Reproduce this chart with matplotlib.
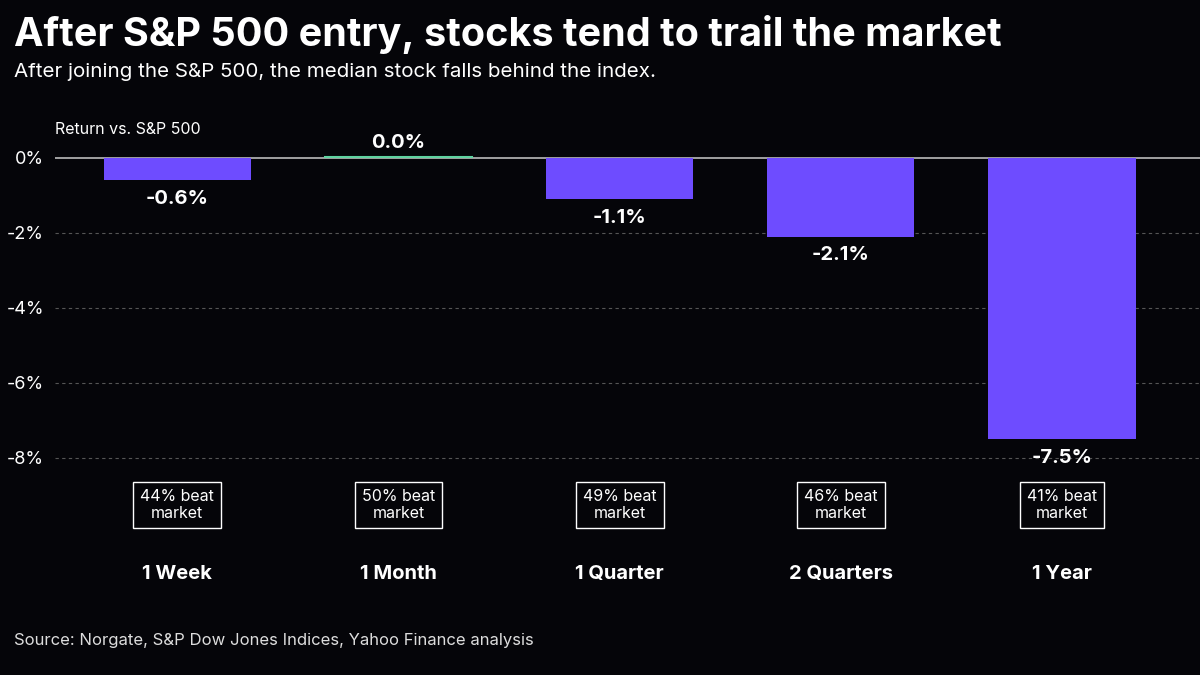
import matplotlib
matplotlib.use('Agg')
import matplotlib.pyplot as plt
from matplotlib.transforms import blended_transform_factory

periods = ['1 Week', '1 Month', '1 Quarter', '2 Quarters', '1 Year']
returns = [-0.6, 0.0, -1.1, -2.1, -7.5]
beat = [44, 50, 49, 46, 41]

bg = '#050509'
plt.rcParams['font.family'] = ['Inter', 'DejaVu Sans']
fig = plt.figure(figsize=(12, 6.75), dpi=100, facecolor=bg)
ax = fig.add_axes([0.046, 0.305, 0.954, 0.5165])
ax.set_facecolor(bg)
ax.set_xlim(-0.552, 4.624)
ax.set_ylim(-8.3, 1.0)

for y in [-2, -4, -6, -8]:
    ax.axhline(y, color='#555555', lw=0.8, ls=(0, (3, 3)), zorder=0)
ax.axhline(0, color='#bbbbbb', lw=1.2, zorder=1)

x = range(len(periods))
ax.bar(x, returns, width=0.665, color='#6e4cff', zorder=2)
for i, v in enumerate(returns):
    if v == 0:
        ax.plot([i - 0.3325, i + 0.3325], [0.03, 0.03], color='#5fd3a0', lw=1.5, zorder=3)
        ax.text(i, 0.15, f'{v:.1f}%', ha='center', va='bottom', color='white',
                fontsize=14.5, fontweight='bold')
    else:
        ax.text(i, v - 0.25, f'{v:.1f}%', ha='center', va='top', color='white',
                fontsize=14.5, fontweight='bold')

ax.set_yticks([0, -2, -4, -6, -8])
ax.set_yticklabels(['0%', '-2%', '-4%', '-6%', '-8%'])
ax.tick_params(axis='y', length=0, colors='white', labelsize=13, pad=8)
ax.tick_params(axis='x', bottom=False, labelbottom=False)
for s in ax.spines.values():
    s.set_visible(False)

tr = blended_transform_factory(ax.transData, fig.transFigure)
for i, b in enumerate(beat):
    ax.text(i, 1 - 505 / 675, f'{b}% beat\nmarket', transform=tr, ha='center', va='center',
            color='white', fontsize=11.5, linespacing=1.15,
            bbox=dict(boxstyle='square,pad=0.45', fc=bg, ec='white', lw=1))
    ax.text(i, 1 - 574 / 675, periods[i], transform=tr, ha='center', va='center',
            color='white', fontsize=14.5, fontweight='bold')

fig.text(55 / 1200, 1 - 129 / 675, 'Return vs. S&P 500', color='white', fontsize=11.5, va='center')
fig.text(14 / 1200, 1 - 34 / 675, 'After S&P 500 entry, stocks tend to trail the market',
         color='white', fontsize=28.5, fontweight='bold', va='center')
fig.text(14 / 1200, 1 - 72 / 675, 'After joining the S&P 500, the median stock falls behind the index.',
         color='white', fontsize=14.8, va='center')
fig.text(14 / 1200, 1 - 641 / 675, 'Source: Norgate, S&P Dow Jones Indices, Yahoo Finance analysis',
         color='#dddddd', fontsize=12, va='center')

fig.savefig('out.png', dpi=100, facecolor=bg)
